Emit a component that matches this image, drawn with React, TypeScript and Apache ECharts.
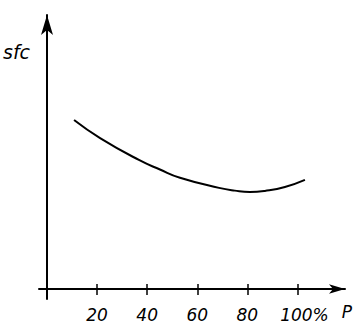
import React, { useEffect, useRef } from "react";
import * as echarts from "echarts";

const loadPercent = [10.8, 21.2, 36.7, 45.1, 53.1, 68.7, 75.0, 81.0, 87.0, 95.0, 103.0];
const sfcValues = [61.7, 55.1, 47.1, 43.6, 40.6, 36.9, 35.9, 35.4, 35.8, 37.2, 39.8];
const tickValues = [20, 40, 60, 80, 100];

const FONT = "DejaVu Sans";
const X_MIN = -3.2;
const X_MAX = 119;
const Y_MIN = -3.65;
const Y_MAX = 100;

export default function App() {
  const ref = useRef<HTMLDivElement>(null);
  useEffect(() => {
    document.body.style.margin = "0";
    if (!ref.current) return;
    const chart = echarts.init(ref.current, undefined, { renderer: "svg" });
    const labelStyle = {
      fontFamily: FONT,
      fontStyle: "italic" as const,
      fontSize: 17,
      color: "#000",
    };
    chart.setOption({
      animation: false,
      backgroundColor: "#fff",
      title: {
        text: "sfc",
        left: 3,
        top: 42,
        padding: 0,
        textStyle: { ...labelStyle, fontSize: 19, fontWeight: "normal" },
      },
      grid: { left: 39, right: 14, top: 15, bottom: 24, outerBoundsMode: "none" },
      xAxis: [
        {
          type: "value",
          min: X_MIN,
          max: X_MAX,
          position: "bottom",
          splitLine: { show: false },
          axisLine: {
            show: true,
            onZero: true,
            onZeroAxisIndex: 0,
            symbol: ["none", "arrow"],
            symbolSize: [7, 16],
            lineStyle: { color: "#000", width: 2 },
          },
          axisTick: {
            show: true,
            inside: false,
            length: 6,
            customValues: tickValues,
            lineStyle: { color: "#000", width: 1.5 },
          },
          axisLabel: {
            ...labelStyle,
            margin: 7,
            lineHeight: 17,
            customValues: tickValues,
            formatter: (v: number) => (v === 100 ? "{s|}100%" : String(v)),
            rich: { s: { width: 14, lineHeight: 17 } },
          },
          name: "P",
          nameLocation: "end",
          nameGap: 7,
          nameTextStyle: {
            ...labelStyle,
            align: "right",
            verticalAlign: "top",
            lineHeight: 16,
            padding: [15, 0, 0, 0],
          },
        },
        {
          type: "value",
          min: X_MIN,
          max: X_MAX,
          position: "bottom",
          splitLine: { show: false },
          axisLine: {
            show: true,
            onZero: true,
            onZeroAxisIndex: 1,
            lineStyle: { color: "#000", width: 0, opacity: 0 },
          },
          axisTick: {
            show: true,
            inside: true,
            length: 5,
            customValues: tickValues,
            lineStyle: { color: "#000", width: 1.5 },
          },
          axisLabel: { show: false },
        },
      ],
      yAxis: [
        {
          type: "value",
          min: Y_MIN,
          max: Y_MAX,
          splitLine: { show: false },
          axisLine: {
            show: true,
            onZero: true,
            symbol: ["none", "arrow"],
            symbolSize: [9, 20],
            lineStyle: { color: "#000", width: 2 },
          },
          axisTick: { show: false },
          axisLabel: { show: false },
        },
        {
          type: "value",
          min: Y_MIN,
          max: Y_MAX,
          position: "left",
          splitLine: { show: false },
          axisLine: { show: false },
          axisTick: { show: false },
          axisLabel: { show: false },
        },
      ],
      series: [
        {
          type: "line",
          xAxisIndex: 0,
          yAxisIndex: 0,
          data: loadPercent.map((x, i) => [x, sfcValues[i]]),
          smooth: true,
          showSymbol: false,
          symbol: "none",
          lineStyle: { color: "#000", width: 2 },
        },
      ],
    });
    return () => chart.dispose();
  }, []);
  return <div ref={ref} style={{ width: 359, height: 323 }} />;
}
